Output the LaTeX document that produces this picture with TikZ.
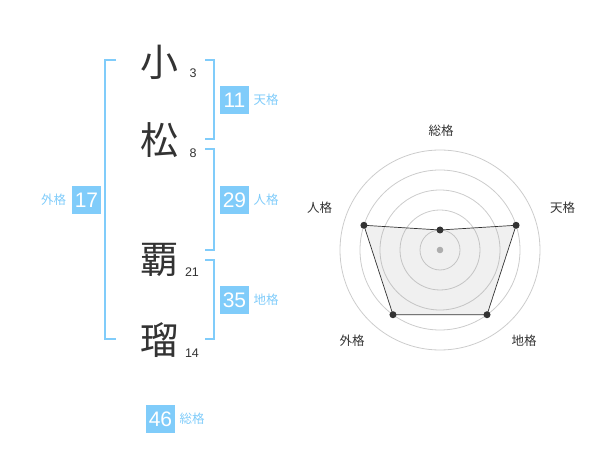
\documentclass[tikz,border=0pt]{standalone}
\usepackage{fontspec}
\setmainfont{Liberation Sans}
\newfontfamily\jpfont{Noto Sans CJK JP}
\usepackage{xcolor}
\usepackage{tikz}
\usetikzlibrary{calc}
\definecolor{kakublue}{RGB}{128,204,250}
\definecolor{inkgray}{RGB}{51,51,51}

\begin{document}
\begin{tikzpicture}[x=1pt,y=-1pt,
            kanji/.style = {font=\jpfont\fontsize{38}{38}\selectfont,
                        text=inkgray, inner sep=0pt},
            stroke/.style = {font=\fontsize{12.5}{13}\selectfont,
                        text=inkgray, inner sep=0pt},
            score/.style = {fill=kakublue, text=white,
                        minimum width=29pt, minimum height=28pt,
                        inner sep=0pt, font=\fontsize{21}{21}\selectfont},
            kaku/.style = {font=\jpfont\fontsize{12.5}{13}\selectfont,
                        text=kakublue, inner sep=0pt},
            bracket/.style = {draw=kakublue, line width=2pt},
            ring/.style = {draw=black!20, line width=0.8pt},
            axislabel/.style = {font=\jpfont\fontsize{12.5}{13}\selectfont,
                        text=inkgray, inner sep=0pt},
            dot/.style = {circle, fill=inkgray, inner sep=0pt,
                        minimum size=7pt}]
            \useasboundingbox (0,0) rectangle (600,470);
            % Name characters
            \node[kanji] (ko) at (159,62) {小};
            \node[kanji] (matsu) at (159,140) {松};
            \node[kanji] (ha) at (159,260) {覇};
            \node[kanji] (ru) at (159,340) {瑠};
            % Stroke counts
            \node[stroke] (ko n) at (193,73) {3};
            \node[stroke] (matsu n) at (193,153) {8};
            \node[stroke] (ha n) at (192,272.5) {21};
            \node[stroke] (ru n) at (192,353) {14};
            % Brackets
            \draw[bracket] (116,60) -- (105,60) -- (105,339) -- (116,339);
            \draw[bracket] (205,60) -- (214,60) -- (214,139) -- (205,139);
            \draw[bracket] (205,149) -- (214,149) -- (214,250) -- (205,250);
            \draw[bracket] (205,260) -- (214,260) -- (214,339) -- (205,339);
            % Scores
            \node[score] (ten) at (234.5,100) {11};
            \node[kaku] at (266,100) {天格};
            \node[score] (jin) at (234.5,200) {29};
            \node[kaku] at (266,200) {人格};
            \node[score] (chi) at (234.5,300) {35};
            \node[kaku] at (266,300) {地格};
            \node[score] (gai) at (86.5,200) {17};
            \node[kaku] at (53.5,200) {外格};
            \node[score] (sou) at (160.5,419) {46};
            \node[kaku] at (192,419) {総格};
            % Radar chart
            \coordinate (C) at (440,250);
            \foreach \r in {20,40,60,80,100}
                \draw[ring] (C) circle (\r);
            \fill[black!30] (C) circle (3.3);
            \coordinate (P sou) at ($(C)+(-90:20)$);
            \coordinate (P ten) at ($(C)+(-18:80)$);
            \coordinate (P chi) at ($(C)+(54:80)$);
            \coordinate (P gai) at ($(C)+(126:80)$);
            \coordinate (P jin) at ($(C)+(198:80)$);
            \draw[fill=black!40, fill opacity=0.15, draw=inkgray, line width=0.7pt]
                (P sou) -- (P ten) -- (P chi) -- (P gai) -- (P jin) -- cycle;
            \foreach \p in {sou,ten,chi,gai,jin}
                \node[dot] at (P \p) {};
            % Axis labels
            \node[axislabel] at (441,131) {総格};
            \node[axislabel] at (562.5,208) {天格};
            \node[axislabel] at (524,341) {地格};
            \node[axislabel] at (352,341) {外格};
            \node[axislabel] at (319.5,208) {人格};
        \end{tikzpicture}
\end{document}
